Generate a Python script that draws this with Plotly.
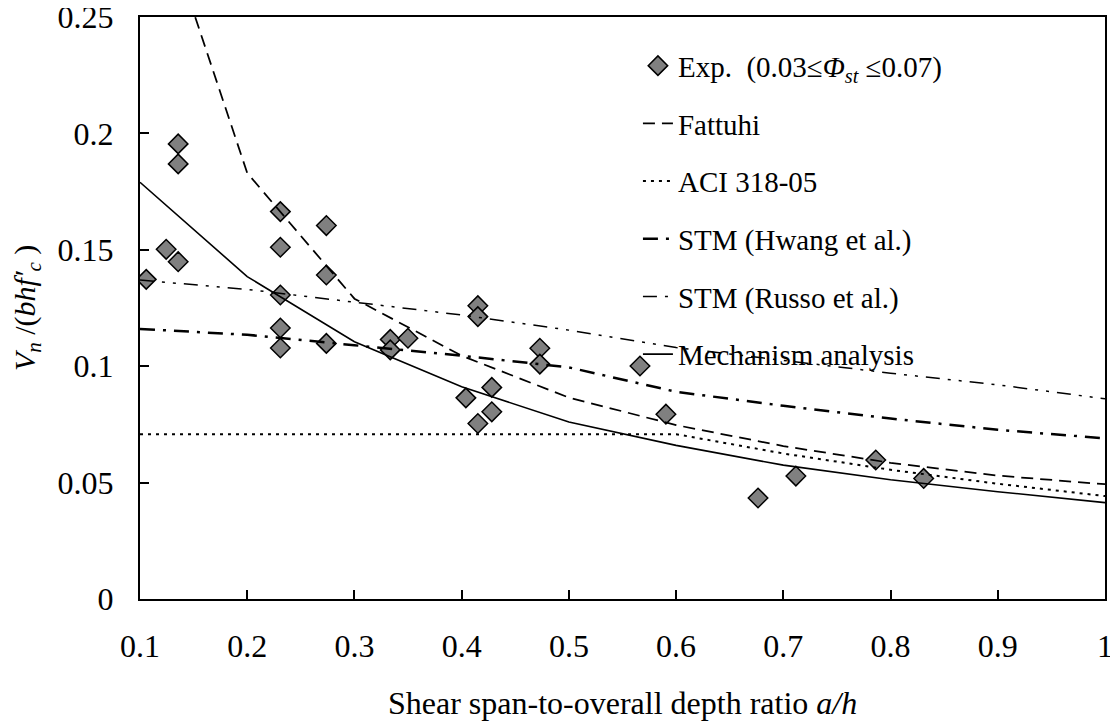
import plotly.graph_objects as go

# ---------------- data ----------------
exp_x = [0.1058, 0.1244, 0.1356, 0.1356, 0.1356, 0.2309, 0.2309, 0.2309, 0.2309, 0.2309,
         0.2738, 0.2738, 0.2738, 0.3334, 0.3334, 0.3499, 0.4039, 0.4151, 0.4151, 0.4151,
         0.4281, 0.4281, 0.4729, 0.4729, 0.5663, 0.5905, 0.6764, 0.7117, 0.7862, 0.8309]
exp_y = [0.1373, 0.1502, 0.1449, 0.1869, 0.1955, 0.1664, 0.1511, 0.1306, 0.1164, 0.1078,
         0.1604, 0.1392, 0.1098, 0.1115, 0.1070, 0.1120, 0.0864, 0.1260, 0.1213, 0.0754,
         0.0909, 0.0804, 0.1077, 0.1009, 0.1001, 0.0794, 0.0434, 0.0528, 0.0597, 0.0518]

fattuhi_x = [0.1, 0.15, 0.2, 0.3, 0.4, 0.5, 0.6, 0.7, 0.8, 0.9, 1.0]
fattuhi_y = [0.370, 0.252, 0.183, 0.129, 0.1045, 0.0865, 0.0747, 0.0657, 0.0585, 0.0530, 0.0493]

a_h = [0.1, 0.2, 0.3, 0.4, 0.5, 0.6, 0.7, 0.8, 0.9, 1.0]
aci_y = [0.0708, 0.0708, 0.0708, 0.0708, 0.0708, 0.0708, 0.0625, 0.0555, 0.0495, 0.0442]
hwang_y = [0.1160, 0.1135, 0.1090, 0.1045, 0.0995, 0.0890, 0.0830, 0.0775, 0.0727, 0.0690]
russo_y = [0.1370, 0.1330, 0.1275, 0.1220, 0.1155, 0.1080, 0.1025, 0.0970, 0.0920, 0.0860]
mech_y = [0.1790, 0.1385, 0.1105, 0.0912, 0.0760, 0.0660, 0.0575, 0.0512, 0.0461, 0.0414]

x_tickvals = [0.1, 0.2, 0.3, 0.4, 0.5, 0.6, 0.7, 0.8, 0.9, 1.0]
x_ticktext = ["0.1", "0.2", "0.3", "0.4", "0.5", "0.6", "0.7", "0.8", "0.9", "1"]
y_tickvals = [0, 0.05, 0.1, 0.15, 0.2, 0.25]
y_ticktext = ["0", "0.05", "0.1", "0.15", "0.2", "0.25"]

FONT = "Liberation Serif, Times New Roman, serif"
FS = 32
LFS = 29
YFS = 30

fig = go.Figure()

fig.add_trace(go.Scatter(
    x=exp_x, y=exp_y, mode="markers", legendgroup="g0",
    name="Exp.  (0.03≤<i>Φ</i><sub><i>st</i></sub> ≤0.07)",
    marker=dict(symbol="diamond", size=15, color="#808080",
                line=dict(color="black", width=1.5)),
))
fig.add_trace(go.Scatter(
    x=fattuhi_x, y=fattuhi_y, mode="lines", name="Fattuhi", legendgroup="g1",
    line=dict(color="black", width=1.75, dash="12px,7px"),
))
fig.add_trace(go.Scatter(
    x=a_h, y=aci_y, mode="lines", name="ACI 318-05", legendgroup="g2",
    line=dict(color="black", width=2, dash="3px,5px"),
))
fig.add_trace(go.Scatter(
    x=a_h, y=hwang_y, mode="lines", name="STM (Hwang et al.)", legendgroup="g3",
    line=dict(color="black", width=2.5, dash="15px,8px,3px,8px"),
))
fig.add_trace(go.Scatter(
    x=a_h, y=russo_y, mode="lines", name="STM (Russo et al.)", legendgroup="g4",
    line=dict(color="black", width=1.5, dash="14px,8px,3px,8px,3px,8px"),
))
fig.add_trace(go.Scatter(
    x=a_h, y=mech_y, mode="lines", name="Mechanism analysis", legendgroup="g5",
    line=dict(color="black", width=1.6),
))

axis_common = dict(
    showgrid=False, zeroline=False, showline=True, mirror=True,
    linecolor="black", linewidth=2, automargin=False,
    ticks="inside", ticklen=9, tickwidth=1.5, tickcolor="black",
    ticklabeloverflow="allow",
    tickfont=dict(family=FONT, size=FS, color="black"),
)

fig.update_xaxes(range=[0.1, 1.0], tickmode="array", tickvals=x_tickvals,
                 ticktext=x_ticktext, ticklabelstandoff=18, **axis_common)
fig.update_yaxes(range=[0, 0.25], tickmode="array", tickvals=y_tickvals,
                 ticktext=y_ticktext, ticklabelstandoff=18, **axis_common)

# the page body has an 8 px default margin, so the figure is sized/offset to
# place the plot area at the reference position inside the 1118x727 window
fig.update_layout(
    width=1110, height=719,
    margin=dict(l=132, r=13, t=9, b=128),
    paper_bgcolor="white", plot_bgcolor="white",
    font=dict(family=FONT, size=FS, color="black"),
    legend=dict(
        x=0.516, y=0.960, xanchor="left", yanchor="top",
        bgcolor="rgba(0,0,0,0)", borderwidth=0,
        font=dict(family=FONT, size=LFS, color="black"),
        traceorder="grouped", tracegroupgap=17,
    ),
    annotations=[
        dict(text="Shear span-to-overall depth ratio <i>a/h</i>",
             xref="paper", yref="paper", x=0.5, y=-0.179,
             xanchor="center", yanchor="middle", showarrow=False,
             font=dict(family=FONT, size=FS, color="black")),
        dict(text="<i>V<sub>n</sub></i> /(<i>bhf′<sub>c</sub></i> )",
             xref="paper", yref="paper", x=-0.117, y=0.5,
             xanchor="center", yanchor="middle", showarrow=False, textangle=-90,
             font=dict(family=FONT, size=YFS, color="black")),
    ],
)

fig.write_html("out.html")
